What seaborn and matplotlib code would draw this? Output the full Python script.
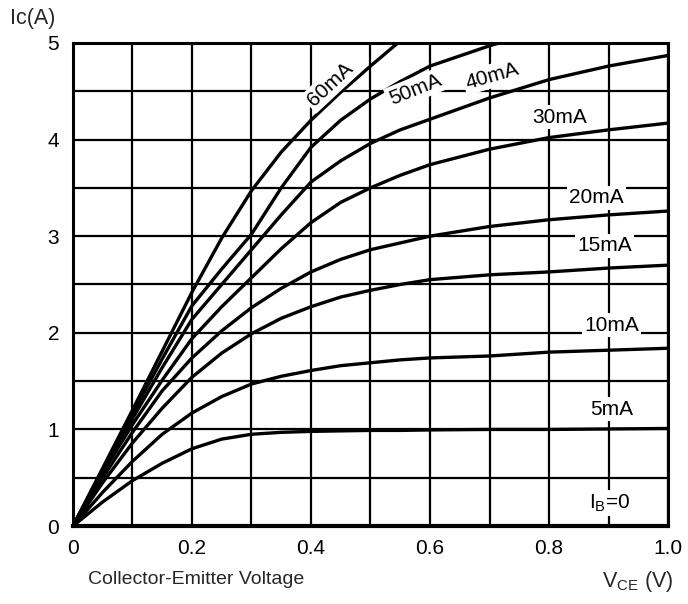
import numpy as np
import pandas as pd
import matplotlib
matplotlib.use('Agg')
import matplotlib.pyplot as plt
import seaborn as sns

# Data (Vce in V, Ic in A)
vce = [0, 0.05, 0.1, 0.15, 0.2, 0.25, 0.3, 0.35, 0.4, 0.45, 0.5, 0.55, 0.6, 0.7, 0.8, 0.9, 1.0]
ic_5 = [0, 0.25, 0.47, 0.65, 0.80, 0.90, 0.95, 0.97, 0.98, 0.985, 0.99, 0.99, 0.995, 1.0, 1.0, 1.005, 1.01]
ic_10 = [0, 0.35, 0.67, 0.95, 1.17, 1.34, 1.47, 1.55, 1.61, 1.66, 1.69, 1.72, 1.74, 1.76, 1.80, 1.82, 1.84]
ic_15 = [0, 0.45, 0.86, 1.22, 1.54, 1.79, 1.99, 2.15, 2.27, 2.37, 2.44, 2.50, 2.55, 2.60, 2.63, 2.67, 2.70]
ic_20 = [0, 0.50, 0.97, 1.40, 1.74, 2.02, 2.26, 2.46, 2.63, 2.76, 2.86, 2.93, 3.00, 3.10, 3.17, 3.22, 3.26]
ic_30 = [0, 0.55, 1.05, 1.51, 1.94, 2.27, 2.57, 2.87, 3.14, 3.35, 3.50, 3.63, 3.74, 3.90, 4.02, 4.10, 4.17]
ic_40 = [0, 0.57, 1.11, 1.64, 2.14, 2.50, 2.86, 3.22, 3.56, 3.78, 3.96, 4.10, 4.21, 4.43, 4.62, 4.76, 4.87]
ic_50 = [0, 0.58, 1.16, 1.73, 2.28, 2.66, 3.02, 3.50, 3.92, 4.20, 4.42, 4.60, 4.76, 4.97, 5.15, 5.30, 5.40]
ic_60 = [0, 0.60, 1.20, 1.81, 2.42, 2.98, 3.47, 3.87, 4.20, 4.49, 4.76, 5.02, 5.25, 5.50, 5.70, 5.85, 6.00]
ic_0 = [0] * len(vce)

curves = {'0': ic_0, '5mA': ic_5, '10mA': ic_10, '15mA': ic_15, '20mA': ic_20,
          '30mA': ic_30, '40mA': ic_40, '50mA': ic_50, '60mA': ic_60}

rows = []
for name, vals in curves.items():
    for v, i in zip(vce, vals):
        rows.append({'Vce': v, 'Ic': i, 'Ib': name})
df = pd.DataFrame(rows)

sns.set_style('white')
plt.rcParams['font.family'] = ['Liberation Sans', 'DejaVu Sans']

fig = plt.figure(figsize=(6.88, 6.04), dpi=100)
ax = fig.add_axes([0.106, 0.129, 0.865, 0.800])

sns.lineplot(data=df, x='Vce', y='Ic', hue='Ib', palette=['black'] * len(curves),
             linewidth=2.4, legend=False, ax=ax, sort=False)

ax.set_xlim(0, 1.0)
ax.set_ylim(0, 5)
ax.set_xticks(np.arange(0, 1.01, 0.2))
ax.set_xticklabels(['0', '0.2', '0.4', '0.6', '0.8', '1.0'])
ax.set_xticks(np.arange(0, 1.01, 0.1), minor=True)
ax.set_yticks(range(0, 6))
ax.set_yticks(np.arange(0, 5.01, 0.5), minor=True)
ax.grid(True, which='both', color='black', linewidth=1.6)
ax.tick_params(which='both', length=0, labelsize=15, colors='black')
ax.tick_params(axis='x', pad=9)
ax.tick_params(axis='y', pad=10)
ax.set_xlabel('')
ax.set_ylabel('')
for s in ax.spines.values():
    s.set_visible(True)
    s.set_color('black')
    s.set_linewidth(2.2)
ax.spines['bottom'].set_linewidth(3.0)

# curve labels (white box breaks the grid like the datasheet)
box = dict(boxstyle='square,pad=0.12', facecolor='white', edgecolor='none')
lab = dict(fontsize=15, color='black', ha='center', va='center')
ax.text(0.432, 4.57, '60mA', rotation=43, bbox=box, zorder=5, **lab)
ax.text(0.575, 4.52, '50mA', rotation=22, bbox=box, zorder=5, **lab)
ax.text(0.705, 4.66, '40mA', rotation=16, bbox=box, zorder=5, **lab)
ax.text(0.818, 4.23, '30mA', bbox=box, zorder=5, **lab)
ax.text(0.880, 3.40, '20mA', bbox=box, zorder=5, **lab)
ax.text(0.893, 2.90, '15mA', bbox=box, zorder=5, **lab)
ax.text(0.905, 2.08, '10mA', bbox=box, zorder=5, **lab)
ax.text(0.906, 1.21, '5mA', bbox=box, zorder=5, **lab)
ax.text(0.902, 0.24, '$\\mathregular{I_B}$=0', bbox=box, zorder=5, **lab)

fig.text(0.015, 0.97, 'Ic(A)', fontsize=15.5, ha='left', va='center')
fig.text(0.128, 0.04, 'Collector-Emitter Voltage', fontsize=14, ha='left', va='center')
fig.text(0.978, 0.038, '$\\mathregular{V_{CE}}$ (V)', fontsize=15.5, ha='right', va='center')

fig.savefig('out.png', dpi=100, facecolor='white')
